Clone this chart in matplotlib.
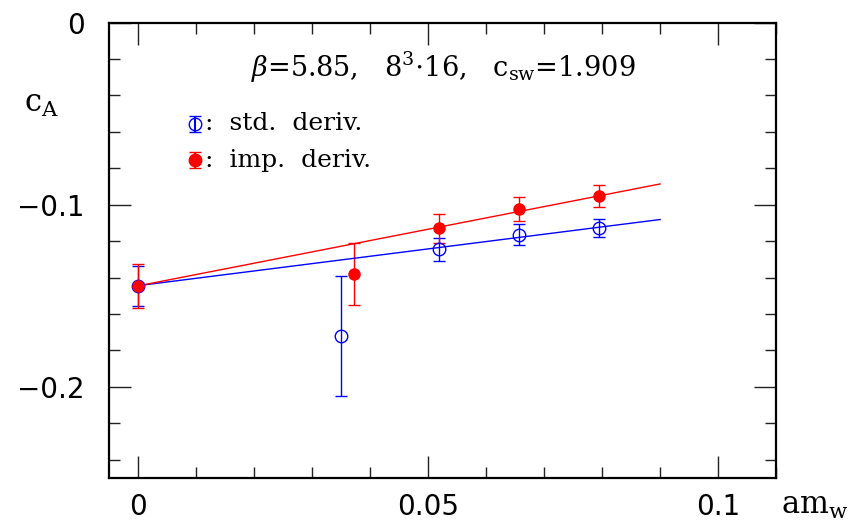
import matplotlib
matplotlib.use("Agg")
import matplotlib.pyplot as plt
import numpy as np
from matplotlib.ticker import MultipleLocator, FixedLocator, FuncFormatter

# data
am_std = [0.0, 0.035, 0.0519, 0.0657, 0.0795]
ca_std = [-0.1444, -0.172, -0.1245, -0.1164, -0.1128]
err_std = [0.011, 0.033, 0.0065, 0.0057, 0.005]

am_imp = [0.0, 0.0372, 0.0519, 0.0657, 0.0795]
ca_imp = [-0.1445, -0.138, -0.113, -0.1024, -0.0952]
err_imp = [0.012, 0.017, 0.008, 0.0067, 0.006]

# linear fits (intercept, slope), drawn over 0..0.09
fit_std = (-0.1444, 0.403)
fit_imp = (-0.1445, 0.621)
fit_range = (0.0, 0.09)

fig = plt.figure(figsize=(8.55, 5.21), dpi=100)
ax = fig.add_axes([0.128, 0.0825, 0.7796, 0.8743])

ax.errorbar(am_std, ca_std, yerr=err_std, fmt="o", mfc="none", mec="blue",
            ecolor="blue", ms=9, mew=1.0, elinewidth=1.0, capsize=4.5, capthick=1.0)
ax.errorbar(am_imp, ca_imp, yerr=err_imp, fmt="o", mfc="red", mec="red",
            ecolor="red", ms=8, mew=1.0, elinewidth=1.0, capsize=4.5, capthick=1.0)

xx = np.array(fit_range)
ax.plot(xx, fit_std[0] + fit_std[1] * xx, color="blue", lw=1.0)
ax.plot(xx, fit_imp[0] + fit_imp[1] * xx, color="red", lw=1.0)

ax.set_xlim(-0.005, 0.11)
ax.set_ylim(-0.25, 0.0)

ax.xaxis.set_major_locator(FixedLocator([0, 0.05, 0.1]))
ax.xaxis.set_minor_locator(MultipleLocator(0.01))
ax.yaxis.set_major_locator(FixedLocator([0, -0.1, -0.2]))
ax.yaxis.set_minor_locator(MultipleLocator(0.02))


def fmt(v, pos):
    if abs(v) < 1e-9:
        return "0"
    s = "%g" % abs(v)
    return ("\u2212" + s) if v < 0 else s


ax.xaxis.set_major_formatter(FuncFormatter(fmt))
ax.yaxis.set_major_formatter(FuncFormatter(fmt))

ax.tick_params(which="both", direction="in", top=True, right=True, width=1.0, color="#222222")
ax.tick_params(which="major", length=16)
ax.tick_params(which="minor", length=8)
ax.tick_params(axis="x", which="major", pad=11, labelsize=20)
ax.tick_params(axis="y", which="major", pad=18, labelsize=20)
for sp in ax.spines.values():
    sp.set_linewidth(1.6)

serif = "DejaVu Serif"
plt.rcParams["mathtext.fontset"] = "dejavuserif"

ax.text(0.0195, -0.0245, r"$\beta$=5.85,   8$^3$$\cdot$16,   c$_{\rm sw}$=1.909",
        fontsize=19.5, family=serif, va="center", ha="left")

# legend drawn by hand
ax.errorbar([0.0098], [-0.0557], yerr=[0.0045], fmt="o", mfc="none", mec="blue",
            ecolor="blue", ms=9, mew=1.0, capsize=4.5)
ax.errorbar([0.0098], [-0.0755], yerr=[0.0045], fmt="o", mfc="red", mec="red",
            ecolor="red", ms=9, mew=1.0, capsize=4.5)
ax.text(0.0115, -0.0557, ":  std.  deriv.", fontsize=18, family=serif, va="center")
ax.text(0.0115, -0.0755, ":  imp.  deriv.", fontsize=18, family=serif, va="center")

fig.text(24 / 855, 1 - 112 / 521, r"c$_{\rm A}$", fontsize=22, family=serif,
         ha="left", va="baseline")
fig.text(781 / 855, 1 - 514 / 521, r"am$_{\rm w}$", fontsize=22, family=serif,
         ha="left", va="baseline")

fig.savefig("out.png", dpi=100)
